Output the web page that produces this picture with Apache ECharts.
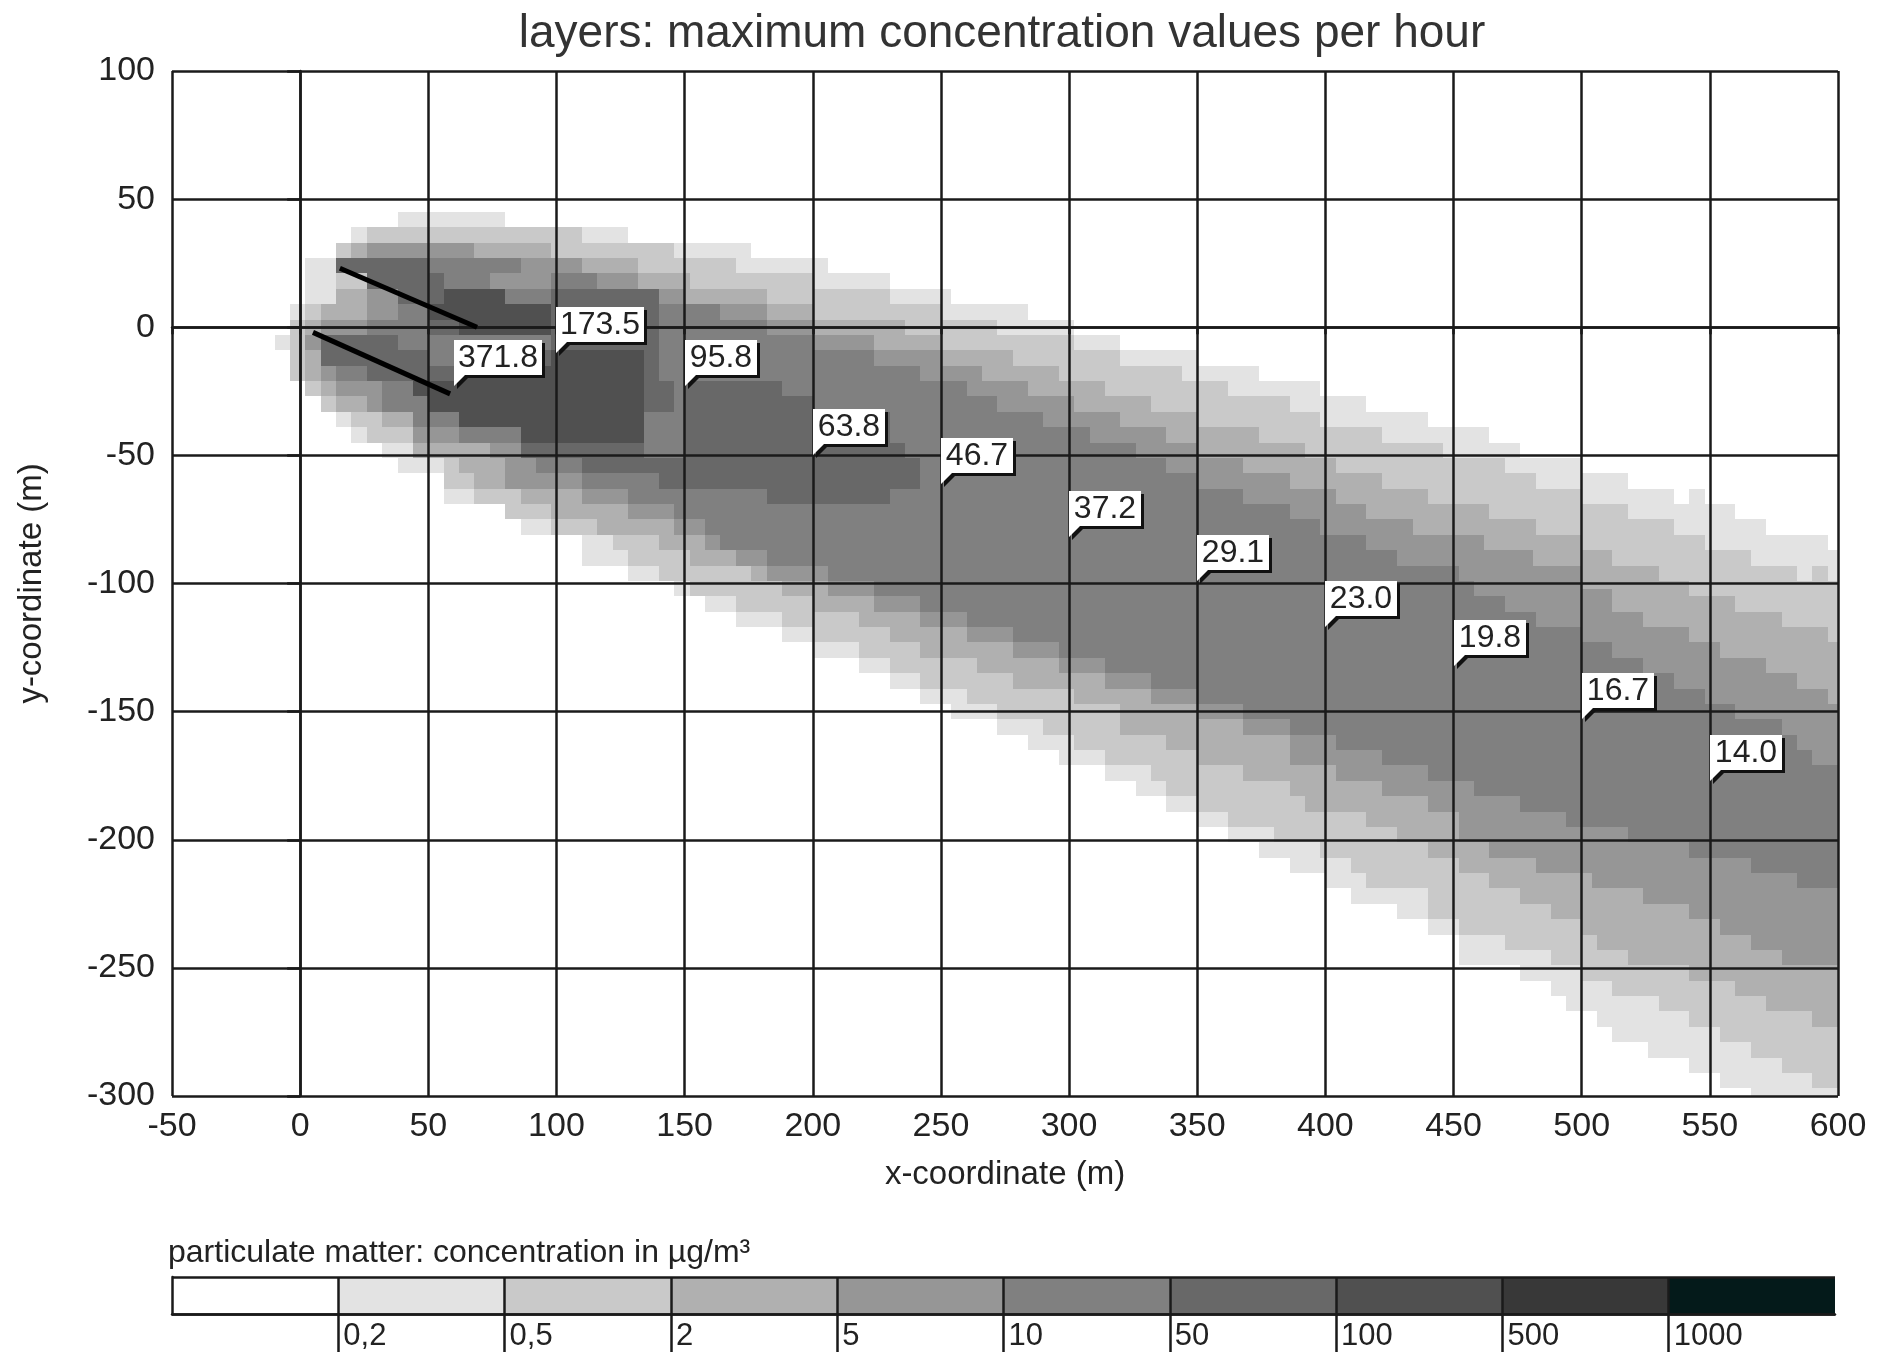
<!DOCTYPE html>
<html>
<head>
<meta charset="utf-8">
<style>html,body{margin:0;padding:0;background:#fff}#c{width:1881px;height:1355px}</style>
<script src="https://cdn.jsdelivr.net/npm/echarts@6/dist/echarts.min.js"></script>
</head>
<body>
<div id="c"></div>
<script>
const titleText = 'layers: maximum concentration values per hour';
const legendTitle = 'particulate matter: concentration in µg/m³';
const xTitle = 'x-coordinate (m)';
const yTitle = 'y-coordinate (m)';
const legendLabels = ['', '0,2', '0,5', '2', '5', '10', '50', '100', '500', '1000', ''];
const levelColors = ['#ffffff', '#e3e3e3', '#c9c9c9', '#b0b0b0', '#969696', '#808080', '#686868', '#505050', '#383838', '#041a1a'];

// staircase edges, pairs of [x from which it holds, y]
const top02 = [[-10,-3],[-4,9],[2,27],[14,33],[20,39],[38,45],[80,39],[128,33],[176,27],[206,21],[230,15],[254,9],[284,3],[302,-3],[320,-9],[350,-15],[374,-21],[398,-27],[416,-33],[440,-39],[464,-45],[476,-51],[500,-57],[518,-63],[536,-69],[542,-63],[548,-69],[560,-75],[572,-81],[596,-87]];
const bottom02 = [[-10,-9],[-4,-21],[2,-27],[8,-33],[14,-39],[20,-45],[32,-51],[38,-57],[56,-69],[80,-75],[86,-81],[110,-93],[128,-99],[146,-105],[158,-111],[170,-117],[188,-123],[200,-129],[218,-135],[230,-141],[242,-147],[254,-153],[272,-159],[284,-165],[296,-171],[314,-177],[326,-183],[338,-189],[350,-195],[362,-201],[374,-207],[386,-213],[400,-219],[410,-225],[428,-231],[440,-237],[452,-249],[476,-255],[488,-261],[494,-267],[506,-273],[512,-279],[526,-285],[542,-291],[554,-297],[566,-303]];
const top05 = [[-4,3],[2,21],[8,27],[14,33],[26,39],[110,33],[146,27],[170,21],[200,15],[230,9],[250,3],[272,-3],[302,-9],[320,-15],[344,-21],[362,-27],[386,-33],[398,-39],[422,-45],[446,-51],[470,-57],[482,-63],[500,-69],[518,-75],[536,-81],[548,-87],[566,-93],[584,-99],[590,-93],[596,-99]];
const bottom05 = [[-4,-21],[2,-27],[8,-33],[20,-39],[26,-45],[44,-51],[56,-63],[68,-69],[80,-75],[98,-81],[122,-87],[128,-93],[140,-99],[152,-105],[170,-111],[188,-117],[200,-123],[218,-129],[230,-135],[242,-141],[260,-147],[272,-153],[290,-159],[302,-165],[314,-171],[332,-177],[338,-183],[350,-189],[362,-195],[380,-201],[398,-207],[410,-213],[416,-219],[440,-231],[452,-237],[470,-243],[488,-249],[500,-255],[512,-261],[530,-267],[542,-273],[554,-279],[566,-285],[578,-291],[590,-297]];
const top2 = [[2,3],[8,9],[14,27],[20,33],[98,27],[132,21],[152,15],[182,9],[200,3],[236,-3],[250,-9],[278,-15],[296,-21],[314,-27],[332,-33],[350,-39],[374,-45],[392,-51],[404,-57],[422,-63],[440,-69],[464,-75],[482,-81],[500,-87],[512,-93],[530,-99],[542,-105],[560,-111],[578,-117],[596,-123]];
const bottom2 = [[2,-21],[8,-27],[14,-33],[32,-39],[44,-45],[62,-57],[68,-63],[86,-69],[98,-75],[116,-81],[140,-87],[152,-93],[176,-99],[188,-105],[200,-111],[218,-117],[230,-123],[242,-129],[264,-135],[278,-141],[302,-147],[320,-159],[338,-165],[350,-171],[368,-177],[386,-183],[392,-189],[416,-195],[428,-201],[440,-207],[452,-213],[464,-219],[476,-225],[488,-231],[500,-237],[506,-243],[518,-249],[542,-255],[560,-261],[572,-267],[590,-273]];
const top5 = [[8,-3],[20,21],[26,33],[68,27],[108,21],[132,15],[150,9],[182,3],[200,-3],[224,-9],[250,-15],[266,-21],[284,-27],[302,-33],[320,-39],[338,-45],[350,-51],[368,-57],[386,-63],[404,-69],[416,-75],[434,-81],[462,-87],[481,-93],[500,-102],[512,-111],[524,-117],[542,-123],[554,-129],[572,-135],[584,-141],[596,-147]];
const bottom5 = [[8,-15],[14,-27],[26,-33],[44,-45],[62,-51],[80,-63],[110,-69],[128,-75],[146,-81],[158,-87],[170,-93],[182,-99],[206,-105],[224,-111],[242,-117],[260,-123],[278,-129],[296,-135],[314,-141],[332,-147],[350,-153],[368,-159],[386,-171],[404,-177],[422,-183],[440,-189],[452,-201],[464,-207],[482,-213],[504,-219],[524,-225],[542,-231],[554,-237],[566,-243],[578,-249]];
const top10 = [[20,27],[100,21],[116,15],[140,9],[164,3],[182,-3],[200,-9],[224,-15],[242,-21],[260,-27],[272,-33],[290,-39],[308,-45],[326,-51],[338,-57],[350,-63],[368,-69],[386,-75],[398,-81],[416,-87],[428,-93],[452,-99],[458,-105],[470,-111],[482,-117],[500,-123],[512,-129],[524,-135],[536,-141],[548,-147],[560,-153],[578,-159],[584,-165],[590,-171]];
const bottom10 = [[20,-21],[32,-27],[44,-33],[50,-39],[62,-45],[86,-51],[92,-57],[110,-63],[128,-69],[146,-75],[158,-81],[164,-87],[182,-93],[206,-99],[224,-105],[242,-111],[260,-117],[278,-123],[296,-129],[314,-135],[332,-141],[350,-147],[368,-153],[386,-159],[404,-165],[422,-171],[440,-177],[458,-183],[476,-189],[494,-195],[518,-201],[542,-207],[566,-213],[584,-219]];
const top50a = [[62,15],[134,-15],[140,-21]];
const bottom50a = [[62,-45],[86,-51],[110,-57],[140,-63]];
const top50b = [[150,-21],[188,-27],[200,-33],[230,-45],[236,-51]];
const bottom50b = [[150,-63],[182,-69],[230,-63]];
const top100 = [[62,-21],[98,-9]];
const bottom100 = [[62,-39],[86,-45]];

// cells around the two sources that do not follow the nesting: [x0, x1, yTop, yBottom, level]
const sourceCells = [
  [2,14,27,21,1],[14,50,27,21,6],[50,86,27,21,5],[86,110,27,21,4],
  [2,14,21,15,1],[14,26,21,15,2],[26,56,21,15,6],[56,74,21,15,5],[74,98,21,15,4],
  [2,14,15,9,1],[14,26,15,9,3],[26,38,15,9,4],[38,56,15,9,6],[56,80,15,9,7],[80,98,15,9,5],
  [-4,2,9,3,1],[2,8,9,3,2],[8,26,9,3,3],[26,38,9,3,4],[38,50,9,3,5],[50,98,9,3,7],
  [-4,2,3,-3,2],[2,8,3,-3,3],[8,26,3,-3,4],[26,50,3,-3,5],[50,62,3,-3,6],[62,98,3,-3,7],
  [-10,-4,-3,-9,1],[-4,2,-3,-9,2],[2,8,-3,-9,4],[8,38,-3,-9,6],[38,98,-3,-9,5],
  [-4,2,-9,-15,2],[2,8,-9,-15,3],[8,50,-9,-15,6],[50,62,-9,-15,5],[62,98,-9,-15,6],
  [-4,2,-15,-21,2],[2,8,-15,-21,3],[8,14,-15,-21,4],[14,26,-15,-21,5],[26,62,-15,-21,6],[62,98,-15,-21,7],
  [2,8,-21,-27,2],[8,14,-21,-27,3],[14,32,-21,-27,4],[32,44,-21,-27,5],[44,98,-21,-27,7],
  [8,14,-27,-33,2],[14,26,-27,-33,3],[26,32,-27,-33,4],[32,50,-27,-33,5],[50,98,-27,-33,7],
  [14,20,-33,-39,1],[20,32,-33,-39,2],[32,44,-33,-39,3],[44,62,-33,-39,5],[62,98,-33,-39,7],
  [20,26,-39,-45,1],[26,44,-39,-45,2],[44,62,-39,-45,4],[62,86,-39,-45,5],
  [32,44,-45,-51,1],[44,74,-45,-51,3],[74,86,-45,-51,4],
  [134,140,15,-15,6],[134,146,-33,-51,5],[146,150,-51,-63,6]
];
const sourceLineA = [[15.5,23],[69,0]];
const sourceLineB = [[5,-2],[58.5,-26]];
const maxLabels = [[60,-23,'371.8'],[100,-10,'173.5'],[150,-23,'95.8'],[200,-50,'63.8'],[250,-61,'46.7'],[300,-82,'37.2'],[350,-99,'29.1'],[400,-117,'23.0'],[450,-132,'19.8'],[500,-153,'16.7'],[550,-177,'14.0']];
const legendTicks = [1, 2, 3, 4, 5, 6, 7, 8, 9];

const bands = [
  [1, top02, bottom02, 600], [2, top05, bottom05, 600], [3, top2, bottom2, 600],
  [4, top5, bottom5, 600], [5, top10, bottom10, 600],
  [6, top50a, bottom50a, 146], [6, top50b, bottom50b, 242], [7, top100, bottom100, 134]
];
const edgeAt = (steps, x) => { let v = steps[0][1]; for (const s of steps) if (s[0] <= x) v = s[1]; return v; };
const cells = [];
for (const [level, t, b, end] of bands) {
  const xs = [...new Set([...t, ...b].map(s => s[0]))].filter(x => x >= Math.max(t[0][0], b[0][0]) && x < end).sort((p, q) => p - q);
  xs.forEach((x, i) => cells.push([x, i + 1 < xs.length ? xs[i + 1] : end, edgeAt(t, x), edgeAt(b, x), level]));
}
sourceCells.forEach(c => cells.push(c));
const legendCells = levelColors.map((_, i) => [i, i + 1, i]);

const font = 'Liberation Sans, Arial, sans-serif';
const ink = '#1a1a1a';
const chart = echarts.init(document.getElementById('c'), null, { renderer: 'canvas' });
const rectFill = (params, api) => {
  const a = api.coord([api.value(0), api.value(2)]);
  const b = api.coord([api.value(1), api.value(3)]);
  const x = Math.round(a[0]), y = Math.round(a[1]);
  return { type: 'rect', shape: { x, y, width: Math.round(b[0]) - x, height: Math.round(b[1]) - y },
    style: { fill: levelColors[api.value(4)] }, silent: true };
};
chart.setOption({
  animation: false,
  backgroundColor: '#fff',
  title: [
    { text: titleText, left: 997, top: 6, textAlign: 'center', textStyle: { fontFamily: font, fontSize: 46, fontWeight: 'normal', color: '#333' } },
    { text: legendTitle, left: 163, top: 1232, textStyle: { fontFamily: font, fontSize: 32, fontWeight: 'normal', color: '#222' } }
  ],
  grid: [
    { left: 172, top: 71, width: 1666, height: 1025, show: false },
    { left: 172, top: 1277, width: 1663, height: 37, show: false }
  ],
  xAxis: [
    { gridIndex: 0, type: 'value', min: -50, max: 600, interval: 50, z: 3,
      name: xTitle, nameLocation: 'middle', nameGap: 62, nameTextStyle: { fontFamily: font, fontSize: 33, color: '#222' },
      axisLine: { show: true, lineStyle: { color: ink, width: 2.5 } },
      axisTick: { show: true, length: 7, lineStyle: { color: ink, width: 2.5 } },
      axisLabel: { fontFamily: font, fontSize: 34, color: '#222', margin: 14, showMinLabel: true, showMaxLabel: true },
      splitLine: { show: true, lineStyle: { color: ink, width: 2.5 } } },
    { gridIndex: 1, type: 'value', min: 0, max: 10, interval: 1, z: 3,
      axisLine: { show: true, lineStyle: { color: ink, width: 2.5 } },
      axisTick: { show: true, length: 38, customValues: legendTicks, lineStyle: { color: ink, width: 2.5 } },
      axisLabel: { fontFamily: font, fontSize: 31, color: '#222', margin: 7, align: 'left', padding: [0, 0, 0, 5],
        showMinLabel: true, showMaxLabel: true, formatter: v => legendLabels[v] },
      splitLine: { show: true, lineStyle: { color: ink, width: 2.5 } } }
  ],
  yAxis: [
    { gridIndex: 0, type: 'value', min: -300, max: 100, interval: 50, z: 3,
      name: yTitle, nameLocation: 'middle', nameGap: 124, nameRotate: 90, nameTextStyle: { fontFamily: font, fontSize: 33, color: '#222' },
      axisLine: { show: true, lineStyle: { color: ink, width: 2.5 } },
      axisTick: { show: true, length: 13, lineStyle: { color: ink, width: 2.5 } },
      axisLabel: { fontFamily: font, fontSize: 34, color: '#222', margin: 17, showMinLabel: true, showMaxLabel: true },
      splitLine: { show: true, lineStyle: { color: ink, width: 2.5 } } },
    { gridIndex: 1, type: 'value', min: 0, max: 1, interval: 1, z: 3,
      axisLine: { show: true, lineStyle: { color: ink, width: 2.5 } },
      axisTick: { show: false }, axisLabel: { show: false },
      splitLine: { show: true, lineStyle: { color: ink, width: 2.5 } } }
  ],
  series: [
    { type: 'custom', xAxisIndex: 0, yAxisIndex: 0, z: 1, clip: true, data: cells, renderItem: rectFill },
    { type: 'line', xAxisIndex: 0, yAxisIndex: 0, z: 4, data: sourceLineA, showSymbol: false, symbol: 'none', lineStyle: { color: '#000', width: 5 } },
    { type: 'line', xAxisIndex: 0, yAxisIndex: 0, z: 4, data: sourceLineB, showSymbol: false, symbol: 'none', lineStyle: { color: '#000', width: 5 } },
    { type: 'custom', xAxisIndex: 0, yAxisIndex: 0, z: 5, clip: false, data: maxLabels,
      encode: { x: 0, y: 1 },
      renderItem: (params, api) => {
        const p = api.coord([api.value(0), api.value(1)]);
        const text = maxLabels[params.dataIndex][2];
        const w = text.length === 5 ? 88 : 72, h = 35, tail = 11;
        const x = Math.round(p[0]), y = Math.round(p[1]) - tail;
        const box = [[x, y + tail], [x, y - h], [x + w, y - h], [x + w, y], [x + 11, y]];
        return { type: 'group', children: [
          { type: 'polygon', shape: { points: box.map(q => [q[0] + 3, q[1] + 3]) }, style: { fill: '#111' }, silent: true },
          { type: 'polygon', shape: { points: box }, style: { fill: '#fff' }, silent: true },
          { type: 'text', x: x + w / 2, y: y - h / 2 + 1, silent: true,
            style: { text, fontFamily: font, fontSize: 32, fill: '#222', align: 'center', verticalAlign: 'middle' } }
        ] };
      } },
    { type: 'custom', xAxisIndex: 1, yAxisIndex: 1, z: 1, clip: true, data: legendCells,
      renderItem: (params, api) => {
        const a = api.coord([api.value(0), 1]);
        const b = api.coord([api.value(1), 0]);
        return { type: 'rect', shape: { x: a[0], y: a[1], width: b[0] - a[0], height: b[1] - a[1] },
          style: { fill: levelColors[api.value(2)] }, silent: true };
      } }
  ]
});
</script>
</body>
</html>
